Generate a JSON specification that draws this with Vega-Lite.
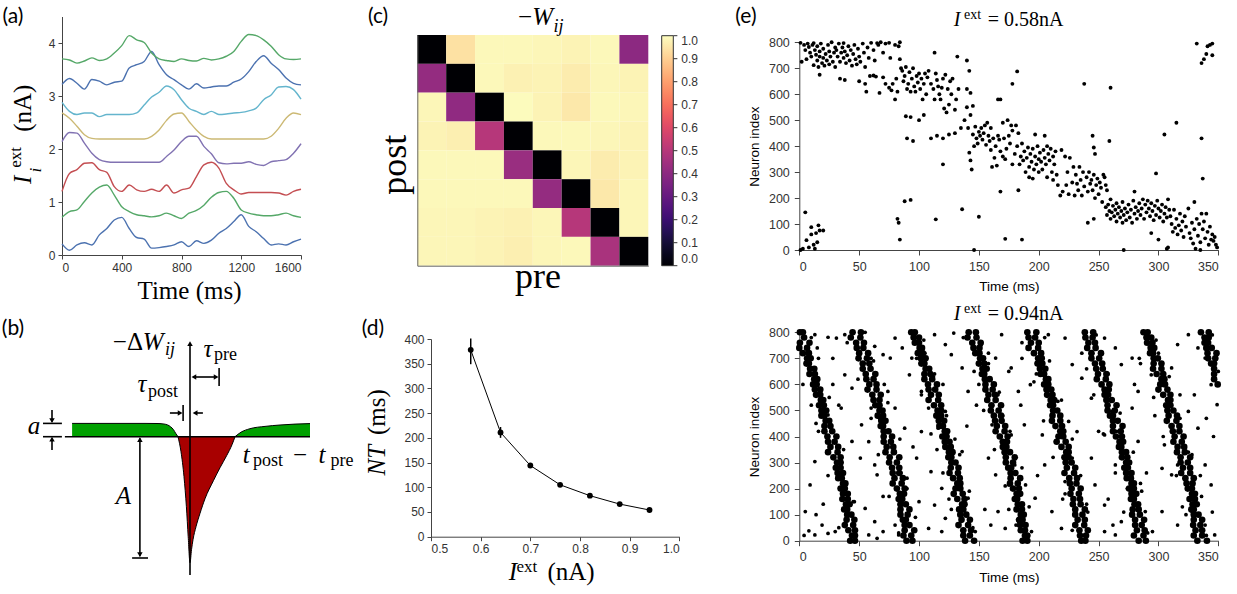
{
"$schema":"https://vega.github.io/schema/vega-lite/v6.json",
"width":1237,"height":594,"autosize":{"type":"none"},"padding":0,"background":"white",
"config":{"view":{"stroke":null},"axis":{"grid":false,"domainColor":"#444","tickColor":"#444","labelColor":"#333","labelFont":"Liberation Sans","labelFontSize":12,"tickSize":4,"labelPadding":3,"titleFont":"Liberation Serif","titleFontWeight":"normal","titleColor":"#000"}},
"resolve":{"scale":{"x":"independent","y":"independent","color":"independent","shape":"independent"},"axis":{"x":"independent","y":"independent"},"legend":{"color":"independent","shape":"independent"}},
"layer":[
{"data":{"values":[
{"t":0,"s0":0.21,"s1":0.71,"s2":1.20,"s3":2.14,"s4":2.68,"s5":2.88,"s6":3.22,"s7":3.70},
{"t":50,"s0":0.09,"s1":0.82,"s2":1.54,"s3":2.31,"s4":2.58,"s5":2.71,"s6":3.33,"s7":3.68},
{"t":100,"s0":0.19,"s1":0.85,"s2":1.61,"s3":2.30,"s4":2.43,"s5":2.65,"s6":3.24,"s7":3.62},
{"t":150,"s0":0.23,"s1":1.01,"s2":1.73,"s3":2.11,"s4":2.27,"s5":2.68,"s6":3.13,"s7":3.66},
{"t":200,"s0":0.19,"s1":1.17,"s2":1.74,"s3":1.92,"s4":2.20,"s5":2.68,"s6":3.31,"s7":3.72},
{"t":250,"s0":0.38,"s1":1.28,"s2":1.61,"s3":1.80,"s4":2.19,"s5":2.61,"s6":3.28,"s7":3.67},
{"t":300,"s0":0.50,"s1":1.32,"s2":1.56,"s3":1.76,"s4":2.19,"s5":2.65,"s6":3.21,"s7":3.70},
{"t":350,"s0":0.66,"s1":1.13,"s2":1.29,"s3":1.75,"s4":2.19,"s5":2.65,"s6":3.26,"s7":3.81},
{"t":400,"s0":0.71,"s1":0.91,"s2":1.20,"s3":1.75,"s4":2.19,"s5":2.65,"s6":3.28,"s7":3.95},
{"t":450,"s0":0.50,"s1":0.82,"s2":1.32,"s3":1.75,"s4":2.19,"s5":2.65,"s6":3.53,"s7":4.14},
{"t":500,"s0":0.33,"s1":0.76,"s2":1.23,"s3":1.75,"s4":2.19,"s5":2.68,"s6":3.59,"s7":4.06},
{"t":550,"s0":0.30,"s1":0.74,"s2":1.20,"s3":1.75,"s4":2.19,"s5":2.83,"s6":3.65,"s7":4.01},
{"t":600,"s0":0.13,"s1":0.72,"s2":1.24,"s3":1.75,"s4":2.24,"s5":2.98,"s6":3.84,"s7":3.81},
{"t":650,"s0":0.14,"s1":0.74,"s2":1.20,"s3":1.75,"s4":2.36,"s5":3.07,"s6":3.59,"s7":3.70},
{"t":700,"s0":0.16,"s1":0.79,"s2":1.32,"s3":1.86,"s4":2.54,"s5":3.19,"s6":3.40,"s7":3.67},
{"t":750,"s0":0.19,"s1":0.74,"s2":1.17,"s3":1.98,"s4":2.66,"s5":3.12,"s6":3.31,"s7":3.65},
{"t":800,"s0":0.25,"s1":0.69,"s2":1.23,"s3":2.14,"s4":2.68,"s5":2.93,"s6":3.21,"s7":3.70},
{"t":850,"s0":0.16,"s1":0.79,"s2":1.26,"s3":2.24,"s4":2.52,"s5":2.77,"s6":3.13,"s7":3.67},
{"t":900,"s0":0.27,"s1":0.84,"s2":1.48,"s3":2.24,"s4":2.36,"s5":2.71,"s6":3.23,"s7":3.66},
{"t":950,"s0":0.22,"s1":0.94,"s2":1.70,"s3":2.05,"s4":2.24,"s5":2.65,"s6":3.15,"s7":3.71},
{"t":1000,"s0":0.28,"s1":1.09,"s2":1.75,"s3":1.91,"s4":2.19,"s5":2.71,"s6":3.17,"s7":3.68},
{"t":1050,"s0":0.41,"s1":1.18,"s2":1.64,"s3":1.74,"s4":2.19,"s5":2.65,"s6":3.19,"s7":3.70},
{"t":1100,"s0":0.50,"s1":1.20,"s2":1.35,"s3":1.72,"s4":2.19,"s5":2.66,"s6":3.19,"s7":3.75},
{"t":1150,"s0":0.63,"s1":1.07,"s2":1.23,"s3":1.73,"s4":2.19,"s5":2.68,"s6":3.26,"s7":3.84},
{"t":1200,"s0":0.76,"s1":0.85,"s2":1.15,"s3":1.73,"s4":2.19,"s5":2.69,"s6":3.32,"s7":4.03},
{"t":1250,"s0":0.54,"s1":0.79,"s2":1.18,"s3":1.76,"s4":2.19,"s5":2.72,"s6":3.46,"s7":4.16},
{"t":1300,"s0":0.44,"s1":0.76,"s2":1.18,"s3":1.71,"s4":2.19,"s5":2.77,"s6":3.65,"s7":4.14},
{"t":1350,"s0":0.31,"s1":0.74,"s2":1.18,"s3":1.69,"s4":2.19,"s5":2.93,"s6":3.76,"s7":4.06},
{"t":1400,"s0":0.19,"s1":0.74,"s2":1.18,"s3":1.76,"s4":2.24,"s5":3.02,"s6":3.62,"s7":3.94},
{"t":1450,"s0":0.21,"s1":0.76,"s2":1.17,"s3":1.78,"s4":2.39,"s5":3.17,"s6":3.50,"s7":3.78},
{"t":1500,"s0":0.19,"s1":0.79,"s2":1.13,"s3":1.80,"s4":2.58,"s5":3.18,"s6":3.34,"s7":3.70},
{"t":1550,"s0":0.25,"s1":0.74,"s2":1.20,"s3":1.92,"s4":2.68,"s5":3.12,"s6":3.24,"s7":3.69},
{"t":1600,"s0":0.30,"s1":0.71,"s2":1.24,"s3":2.10,"s4":2.65,"s5":2.94,"s6":3.21,"s7":3.70}]},
"transform":[{"fold":["s0","s1","s2","s3","s4","s5","s6","s7"],"as":["s","v"]}],
"mark":{"type":"line","interpolate":"monotone","strokeWidth":1.4},
"encoding":{
"x":{"field":"t","type":"quantitative","scale":{"domain":[0,1600],"range":[62,301],"nice":false,"zero":false},"axis":{"orient":"bottom","offset":-339,"values":[0,400,800,1200,1600],"format":"d","title":"Time (ms)","titleFontSize":25,"titleX":189,"titleY":43,"titleBaseline":"alphabetic"}},
"y":{"field":"v","type":"quantitative","scale":{"domain":[0,4.5],"range":[255,16.5],"nice":false,"zero":false},"axis":{"orient":"left","offset":-62,"values":[0,1,2,3,4],"title":null}},
"color":{"field":"s","type":"nominal","scale":{"domain":["s0","s1","s2","s3","s4","s5","s6","s7"],"range":["#4C72B0","#55A868","#C44E52","#8172B2","#CCB974","#64B5CD","#4C72B0","#55A868"]},"legend":null}}},
{"data":{"values":[{"x":-207,"y":1.42,"s":"I"}]},"mark":{"type":"text","font":"Liberation Serif","fontSize":25,"fontStyle":"italic","angle":270,"align":"center","baseline":"alphabetic"},
"encoding":{"x":{"field":"x","type":"quantitative","scale":{"domain":[0,1600],"range":[62,301],"nice":false,"zero":false},"axis":null},"y":{"field":"y","type":"quantitative","scale":{"domain":[0,4.5],"range":[255,16.5],"nice":false,"zero":false},"axis":null},"text":{"field":"s"}}},
{"data":{"values":[{"x":-275,"y":1.84,"s":"ext"}]},"mark":{"type":"text","font":"Liberation Serif","fontSize":17,"angle":270,"align":"center","baseline":"alphabetic"},
"encoding":{"x":{"field":"x","type":"quantitative","scale":{"domain":[0,1600],"range":[62,301],"nice":false,"zero":false},"axis":null},"y":{"field":"y","type":"quantitative","scale":{"domain":[0,4.5],"range":[255,16.5],"nice":false,"zero":false},"axis":null},"text":{"field":"s"}}},
{"data":{"values":[{"x":-140,"y":1.6,"s":"i"}]},"mark":{"type":"text","font":"Liberation Serif","fontSize":17,"fontStyle":"italic","angle":270,"align":"center","baseline":"alphabetic"},
"encoding":{"x":{"field":"x","type":"quantitative","scale":{"domain":[0,1600],"range":[62,301],"nice":false,"zero":false},"axis":null},"y":{"field":"y","type":"quantitative","scale":{"domain":[0,4.5],"range":[255,16.5],"nice":false,"zero":false},"axis":null},"text":{"field":"s"}}},
{"data":{"values":[{"x":-208,"y":2.77,"s":"(nA)"}]},"mark":{"type":"text","font":"Liberation Serif","fontSize":25,"angle":270,"align":"center","baseline":"alphabetic"},
"encoding":{"x":{"field":"x","type":"quantitative","scale":{"domain":[0,1600],"range":[62,301],"nice":false,"zero":false},"axis":null},"y":{"field":"y","type":"quantitative","scale":{"domain":[0,4.5],"range":[255,16.5],"nice":false,"zero":false},"axis":null},"text":{"field":"s"}}},

{"data":{"name":"kernel","values":[
{"x":-3.93,"y":1.33,"p":"gl"},{"x":-1.5,"y":1.33,"p":"gl"},{"x":-1.1,"y":1.32,"p":"gl"},{"x":-0.9,"y":1.28,"p":"gl"},{"x":-0.75,"y":1.18,"p":"gl"},{"x":-0.65,"y":1.0,"p":"gl"},{"x":-0.55,"y":0.7,"p":"gl"},{"x":-0.48,"y":0.35,"p":"gl"},{"x":-0.4,"y":0,"p":"gl"},
{"x":-0.4,"y":0,"p":"r"},{"x":-0.3,"y":-1.5,"p":"r"},{"x":-0.2,"y":-4,"p":"r"},{"x":-0.12,"y":-7,"p":"r"},{"x":-0.06,"y":-10,"p":"r"},{"x":0,"y":-12.6,"p":"r"},{"x":0.05,"y":-11.3,"p":"r"},{"x":0.1,"y":-10.3,"p":"r"},{"x":0.2,"y":-9,"p":"r"},{"x":0.33,"y":-7.7,"p":"r"},{"x":0.5,"y":-6.2,"p":"r"},{"x":0.78,"y":-4.4,"p":"r"},{"x":1.0,"y":-3.1,"p":"r"},{"x":1.22,"y":-1.9,"p":"r"},{"x":1.4,"y":-0.8,"p":"r"},{"x":1.5,"y":0,"p":"r"},
{"x":1.5,"y":0,"p":"gr"},{"x":1.7,"y":0.45,"p":"gr"},{"x":2.0,"y":0.8,"p":"gr"},{"x":2.5,"y":1.03,"p":"gr"},{"x":3.0,"y":1.17,"p":"gr"},{"x":3.5,"y":1.26,"p":"gr"},{"x":4.0,"y":1.31,"p":"gr"}]},
"transform":[{"filter":"datum.p != 'r'"}],
"mark":{"type":"area","color":"#00a000","interpolate":"monotone"},
"encoding":{"x":{"field":"x","type":"quantitative","scale":{"domain":[-4,4],"range":[70,310],"nice":false,"zero":false},"axis":null},"y":{"field":"y","type":"quantitative","scale":{"domain":[-13,10],"range":[566.7,336.7],"nice":false,"zero":false},"axis":null},"y2":{"datum":0},"detail":{"field":"p"}}},
{"data":{"name":"kernel"},"transform":[{"filter":"datum.p == 'r'"}],
"mark":{"type":"area","color":"#a80000","interpolate":"monotone"},
"encoding":{"x":{"field":"x","type":"quantitative","scale":{"domain":[-4,4],"range":[70,310],"nice":false,"zero":false},"axis":null},"y":{"field":"y","type":"quantitative","scale":{"domain":[-13,10],"range":[566.7,336.7],"nice":false,"zero":false},"axis":null},"y2":{"datum":0}}},
{"data":{"name":"kernel"},
"mark":{"type":"line","color":"#000","strokeWidth":1,"interpolate":"monotone"},
"encoding":{"x":{"field":"x","type":"quantitative","scale":{"domain":[-4,4],"range":[70,310],"nice":false,"zero":false},"axis":null},"y":{"field":"y","type":"quantitative","scale":{"domain":[-13,10],"range":[566.7,336.7],"nice":false,"zero":false},"axis":null},"detail":{"field":"p"}}},
{"data":{"values":[
{"x":-4.17,"x2":4.0,"y":0,"y2":0},{"x":0,"x2":0,"y":-13.83,"y2":9.2},{"x":-4.9,"x2":-4.27,"y":1.33,"y2":1.33},{"x":-4.9,"x2":-4.27,"y":0,"y2":0},{"x":-4.6,"x2":-4.6,"y":2.67,"y2":1.5},{"x":-4.6,"x2":-4.6,"y":-1.33,"y2":-0.2},{"x":-1.67,"x2":-1.67,"y":-0.15,"y2":-11.95},{"x":-1.93,"x2":-1.4,"y":-12.13,"y2":-12.13},{"x":0.1,"x2":0.9,"y":5.97,"y2":5.97},{"x":0.97,"x2":0.97,"y":6.87,"y2":5.07},{"x":-0.67,"x2":-0.35,"y":2.37,"y2":2.37},{"x":-0.23,"x2":-0.23,"y":3.17,"y2":1.57},{"x":0.43,"x2":0.2,"y":2.37,"y2":2.37}]},
"mark":{"type":"rule","color":"#000","strokeWidth":1.6},
"encoding":{"x":{"field":"x","type":"quantitative","scale":{"domain":[-4,4],"range":[70,310],"nice":false,"zero":false},"axis":null},"x2":{"field":"x2"},"y":{"field":"y","type":"quantitative","scale":{"domain":[-13,10],"range":[566.7,336.7],"nice":false,"zero":false},"axis":null},"y2":{"field":"y2"}}},
{"data":{"values":[{"x":0,"y":9.3,"d":"up"},{"x":-4.6,"y":1.6,"d":"down"},{"x":-4.6,"y":-0.25,"d":"up"},{"x":-1.67,"y":-0.3,"d":"up"},{"x":-1.67,"y":-11.8,"d":"down"},{"x":0.13,"y":5.97,"d":"left"},{"x":0.87,"y":5.97,"d":"right"},{"x":-0.33,"y":2.37,"d":"right"},{"x":0.17,"y":2.37,"d":"left"}]},
"mark":{"type":"point","filled":true,"color":"#000","size":30,"opacity":1},
"encoding":{"x":{"field":"x","type":"quantitative","scale":{"domain":[-4,4],"range":[70,310],"nice":false,"zero":false},"axis":null},"y":{"field":"y","type":"quantitative","scale":{"domain":[-13,10],"range":[566.7,336.7],"nice":false,"zero":false},"axis":null},"shape":{"field":"d","type":"nominal","scale":{"domain":["up","down","left","right"],"range":["triangle-up","triangle-down","triangle-left","triangle-right"]},"legend":null}}},
{"data":{"values":[{"x":-2.07,"y":8.67,"s":"−Δ"},{"x":3.67,"y":-2.63,"s":"−"}]},"mark":{"type":"text","font":"Liberation Serif","fontSize":25,"align":"center","baseline":"alphabetic"},
"encoding":{"x":{"field":"x","type":"quantitative","scale":{"domain":[-4,4],"range":[70,310],"nice":false,"zero":false},"axis":null},"y":{"field":"y","type":"quantitative","scale":{"domain":[-13,10],"range":[566.7,336.7],"nice":false,"zero":false},"axis":null},"text":{"field":"s"}}},
{"data":{"values":[{"x":-1.23,"y":8.67,"s":"W"},{"x":0.6,"y":8.0,"s":"τ"},{"x":-1.6,"y":4.5,"s":"τ"},{"x":-5.2,"y":0.27,"s":"a"},{"x":-2.22,"y":-6.73,"s":"A"},{"x":1.87,"y":-2.63,"s":"t"},{"x":4.4,"y":-2.63,"s":"t"}]},"mark":{"type":"text","font":"Liberation Serif","fontSize":25,"fontStyle":"italic","align":"center","baseline":"alphabetic"},
"encoding":{"x":{"field":"x","type":"quantitative","scale":{"domain":[-4,4],"range":[70,310],"nice":false,"zero":false},"axis":null},"y":{"field":"y","type":"quantitative","scale":{"domain":[-13,10],"range":[566.7,336.7],"nice":false,"zero":false},"axis":null},"text":{"field":"s"}}},
{"data":{"values":[{"x":1.18,"y":7.67,"s":"pre"},{"x":-0.9,"y":3.97,"s":"post"},{"x":2.6,"y":-2.93,"s":"post"},{"x":5.07,"y":-2.93,"s":"pre"}]},"mark":{"type":"text","font":"Liberation Serif","fontSize":18,"align":"center","baseline":"alphabetic"},
"encoding":{"x":{"field":"x","type":"quantitative","scale":{"domain":[-4,4],"range":[70,310],"nice":false,"zero":false},"axis":null},"y":{"field":"y","type":"quantitative","scale":{"domain":[-13,10],"range":[566.7,336.7],"nice":false,"zero":false},"axis":null},"text":{"field":"s"}}},
{"data":{"values":[{"x":-0.67,"y":8.17,"s":"ij"}]},"mark":{"type":"text","font":"Liberation Serif","fontSize":18,"fontStyle":"italic","align":"center","baseline":"alphabetic"},
"encoding":{"x":{"field":"x","type":"quantitative","scale":{"domain":[-4,4],"range":[70,310],"nice":false,"zero":false},"axis":null},"y":{"field":"y","type":"quantitative","scale":{"domain":[-13,10],"range":[566.7,336.7],"nice":false,"zero":false},"axis":null},"text":{"field":"s"}}},

{"data":{"values":[
{"post":1,"c1":0,"c2":0.94,"c3":0.99,"c4":0.99,"c5":0.985,"c6":0.98,"c7":0.99,"c8":0.4},
{"post":2,"c1":0.42,"c2":0,"c3":0.99,"c4":0.975,"c5":0.98,"c6":0.965,"c7":0.985,"c8":0.98},
{"post":3,"c1":0.985,"c2":0.41,"c3":0,"c4":0.995,"c5":0.98,"c6":0.955,"c7":0.99,"c8":0.985},
{"post":4,"c1":0.98,"c2":0.97,"c3":0.5,"c4":0,"c5":0.99,"c6":0.99,"c7":0.985,"c8":0.98},
{"post":5,"c1":0.99,"c2":0.99,"c3":0.99,"c4":0.43,"c5":0,"c6":0.985,"c7":0.965,"c8":0.98},
{"post":6,"c1":0.99,"c2":0.99,"c3":0.99,"c4":0.99,"c5":0.42,"c6":0,"c7":0.955,"c8":0.985},
{"post":7,"c1":0.985,"c2":0.985,"c3":0.98,"c4":0.975,"c5":0.985,"c6":0.5,"c7":0,"c8":0.985},
{"post":8,"c1":0.985,"c2":0.985,"c3":0.98,"c4":0.97,"c5":0.985,"c6":0.99,"c7":0.47,"c8":0}]},
"transform":[{"fold":["c1","c2","c3","c4","c5","c6","c7","c8"],"as":["pre","w"]}],
"mark":{"type":"rect"},
"encoding":{
"x":{"field":"pre","type":"ordinal","scale":{"domain":["c1","c2","c3","c4","c5","c6","c7","c8"],"range":[417.3,648.3],"paddingInner":0,"paddingOuter":0},"axis":{"orient":"bottom","offset":-328.3,"labels":false,"ticks":false,"title":null,"domainColor":"#666"}},
"y":{"field":"post","type":"ordinal","scale":{"domain":[1,2,3,4,5,6,7,8],"range":[35,265.7],"paddingInner":0,"paddingOuter":0},"axis":{"orient":"left","offset":-417.3,"labels":false,"ticks":false,"title":null,"domainColor":"#666"}},
"color":{"field":"w","type":"quantitative","scale":{"scheme":"magma","domain":[0,1]},"legend":{"orient":"none","legendX":661.7,"legendY":35.7,"direction":"vertical","gradientLength":230,"gradientThickness":11.6,"values":[0,0.1,0.2,0.3,0.4,0.5,0.6,0.7,0.8,0.9,1],"format":".1f","labelFont":"Liberation Sans","labelFontSize":12,"labelColor":"#333","labelOverlap":false,"title":null,"gradientStrokeColor":"#333","gradientStrokeWidth":1,"labelOffset":8}}}},
{"data":{"values":[{"v":0},{"v":0.1},{"v":0.2},{"v":0.3},{"v":0.4},{"v":0.5},{"v":0.6},{"v":0.7},{"v":0.8},{"v":0.9},{"v":1}]},
"mark":{"type":"rule","color":"#333","strokeWidth":1},
"encoding":{"x":{"datum":1,"type":"quantitative","scale":{"domain":[0,1],"range":[661.7,673.3],"nice":false,"zero":false},"axis":null},"x2":{"datum":1.35},"y":{"field":"v","type":"quantitative","scale":{"domain":[0,1],"range":[265.7,35.7],"nice":false,"zero":false},"axis":null}}},
{"data":{"values":[{"x":3.73,"y":-0.35,"s":"−"}]},"mark":{"type":"text","font":"Liberation Serif","fontSize":25,"align":"center","baseline":"alphabetic"},
"encoding":{"x":{"field":"x","type":"quantitative","scale":{"domain":[0,8],"range":[417.3,648.3],"nice":false,"zero":false},"axis":null},"y":{"field":"y","type":"quantitative","scale":{"domain":[0,8],"range":[35,265.7],"nice":false,"zero":false},"axis":null},"text":{"field":"s"}}},
{"data":{"values":[{"x":4.34,"y":-0.35,"s":"W"}]},"mark":{"type":"text","font":"Liberation Serif","fontSize":25,"fontStyle":"italic","align":"center","baseline":"alphabetic"},
"encoding":{"x":{"field":"x","type":"quantitative","scale":{"domain":[0,8],"range":[417.3,648.3],"nice":false,"zero":false},"axis":null},"y":{"field":"y","type":"quantitative","scale":{"domain":[0,8],"range":[35,265.7],"nice":false,"zero":false},"axis":null},"text":{"field":"s"}}},
{"data":{"values":[{"x":4.89,"y":-0.11,"s":"ij"}]},"mark":{"type":"text","font":"Liberation Serif","fontSize":18,"fontStyle":"italic","align":"center","baseline":"alphabetic"},
"encoding":{"x":{"field":"x","type":"quantitative","scale":{"domain":[0,8],"range":[417.3,648.3],"nice":false,"zero":false},"axis":null},"y":{"field":"y","type":"quantitative","scale":{"domain":[0,8],"range":[35,265.7],"nice":false,"zero":false},"axis":null},"text":{"field":"s"}}},
{"data":{"values":[{"x":4.18,"y":8.77,"s":"pre"}]},"mark":{"type":"text","font":"Liberation Serif","fontSize":36,"align":"center","baseline":"alphabetic"},
"encoding":{"x":{"field":"x","type":"quantitative","scale":{"domain":[0,8],"range":[417.3,648.3],"nice":false,"zero":false},"axis":null},"y":{"field":"y","type":"quantitative","scale":{"domain":[0,8],"range":[35,265.7],"nice":false,"zero":false},"axis":null},"text":{"field":"s"}}},
{"data":{"values":[{"x":-0.39,"y":4.5,"s":"post"}]},"mark":{"type":"text","font":"Liberation Serif","fontSize":36,"angle":270,"align":"center","baseline":"alphabetic"},
"encoding":{"x":{"field":"x","type":"quantitative","scale":{"domain":[0,8],"range":[417.3,648.3],"nice":false,"zero":false},"axis":null},"y":{"field":"y","type":"quantitative","scale":{"domain":[0,8],"range":[35,265.7],"nice":false,"zero":false},"axis":null},"text":{"field":"s"}}},

{"data":{"name":"nt","values":[{"i":0.58,"nt":378,"lo":349,"hi":401},{"i":0.64,"nt":211,"lo":200,"hi":222},{"i":0.70,"nt":144,"lo":139,"hi":149},{"i":0.76,"nt":105,"lo":102,"hi":108},{"i":0.82,"nt":83,"lo":80,"hi":86},{"i":0.88,"nt":66,"lo":64,"hi":68},{"i":0.94,"nt":54,"lo":52,"hi":56}]},
"mark":{"type":"line","color":"#000","strokeWidth":1},
"encoding":{"x":{"field":"i","type":"quantitative","scale":{"domain":[0.5,1],"range":[431,679.3],"nice":false,"zero":false},"axis":{"orient":"bottom","offset":-57.3,"values":[0.5,0.6,0.7,0.8,0.9,1.0],"format":".1f","title":null}},
"y":{"field":"nt","type":"quantitative","scale":{"domain":[0,400],"range":[536.7,339],"nice":false,"zero":false},"axis":{"orient":"left","offset":-431,"values":[0,50,100,150,200,250,300,350,400],"title":null}}}},
{"data":{"name":"nt"},"mark":{"type":"rule","color":"#000","strokeWidth":1.5},
"encoding":{"x":{"field":"i","type":"quantitative","scale":{"domain":[0.5,1],"range":[431,679.3],"nice":false,"zero":false},"axis":null},"y":{"field":"lo","type":"quantitative","scale":{"domain":[0,400],"range":[536.7,339],"nice":false,"zero":false},"axis":null},"y2":{"field":"hi"}}},
{"data":{"name":"nt"},"mark":{"type":"point","filled":true,"color":"#000","size":34,"opacity":1},
"encoding":{"x":{"field":"i","type":"quantitative","scale":{"domain":[0.5,1],"range":[431,679.3],"nice":false,"zero":false},"axis":null},"y":{"field":"nt","type":"quantitative","scale":{"domain":[0,400],"range":[536.7,339],"nice":false,"zero":false},"axis":null}}},
{"data":{"values":[{"x":0.665,"y":-87.5,"s":"I"}]},"mark":{"type":"text","font":"Liberation Serif","fontSize":25,"fontStyle":"italic","align":"center","baseline":"alphabetic"},
"encoding":{"x":{"field":"x","type":"quantitative","scale":{"domain":[0.5,1],"range":[431,679.3],"nice":false,"zero":false},"axis":null},"y":{"field":"y","type":"quantitative","scale":{"domain":[0,400],"range":[536.7,339],"nice":false,"zero":false},"axis":null},"text":{"field":"s"}}},
{"data":{"values":[{"x":0.693,"y":-72,"s":"ext"}]},"mark":{"type":"text","font":"Liberation Serif","fontSize":17,"align":"center","baseline":"alphabetic"},
"encoding":{"x":{"field":"x","type":"quantitative","scale":{"domain":[0.5,1],"range":[431,679.3],"nice":false,"zero":false},"axis":null},"y":{"field":"y","type":"quantitative","scale":{"domain":[0,400],"range":[536.7,339],"nice":false,"zero":false},"axis":null},"text":{"field":"s"}}},
{"data":{"values":[{"x":0.782,"y":-87.5,"s":"(nA)"}]},"mark":{"type":"text","font":"Liberation Serif","fontSize":25,"align":"center","baseline":"alphabetic"},
"encoding":{"x":{"field":"x","type":"quantitative","scale":{"domain":[0.5,1],"range":[431,679.3],"nice":false,"zero":false},"axis":null},"y":{"field":"y","type":"quantitative","scale":{"domain":[0,400],"range":[536.7,339],"nice":false,"zero":false},"axis":null},"text":{"field":"s"}}},
{"data":{"values":[{"x":0.407,"y":155,"s":"NT"}]},"mark":{"type":"text","font":"Liberation Serif","fontSize":25,"fontStyle":"italic","angle":270,"align":"center","baseline":"alphabetic"},
"encoding":{"x":{"field":"x","type":"quantitative","scale":{"domain":[0.5,1],"range":[431,679.3],"nice":false,"zero":false},"axis":null},"y":{"field":"y","type":"quantitative","scale":{"domain":[0,400],"range":[536.7,339],"nice":false,"zero":false},"axis":null},"text":{"field":"s"}}},
{"data":{"values":[{"x":0.407,"y":252,"s":"(ms)"}]},"mark":{"type":"text","font":"Liberation Serif","fontSize":25,"angle":270,"align":"center","baseline":"alphabetic"},
"encoding":{"x":{"field":"x","type":"quantitative","scale":{"domain":[0.5,1],"range":[431,679.3],"nice":false,"zero":false},"axis":null},"y":{"field":"y","type":"quantitative","scale":{"domain":[0,400],"range":[536.7,339],"nice":false,"zero":false},"axis":null},"text":{"field":"s"}}},

{"data":{"values":[
{"t":1,"n":798},{"t":2,"n":725},{"t":4,"n":790},{"t":5,"n":770},{"t":6,"n":735},{"t":7,"n":795},{"t":8,"n":782},{"t":9,"n":760},{"t":10,"n":745},{"t":11,"n":790},{"t":12,"n":712},{"t":12,"n":797},{"t":13,"n":770},{"t":14,"n":752},{"t":15,"n":730},{"t":15,"n":785},{"t":16,"n":705},{"t":17,"n":765},{"t":17,"n":745},{"t":18,"n":795},{"t":19,"n":720},{"t":20,"n":740},{"t":20,"n":775},{"t":21,"n":710},{"t":22,"n":755},{"t":23,"n":730},{"t":24,"n":790},{"t":25,"n":715},{"t":25,"n":765},{"t":26,"n":745},{"t":27,"n":800},{"t":28,"n":725},{"t":29,"n":760},{"t":30,"n":780},{"t":30,"n":705},{"t":17,"n":675},
{"t":31,"n":770},{"t":32,"n":745},{"t":33,"n":795},{"t":34,"n":725},{"t":35,"n":760},{"t":36,"n":780},{"t":37,"n":740},{"t":37,"n":797},{"t":38,"n":765},{"t":39,"n":720},{"t":40,"n":750},{"t":41,"n":785},{"t":42,"n":730},{"t":43,"n":770},{"t":44,"n":710},{"t":45,"n":755},{"t":46,"n":790},{"t":47,"n":735},{"t":48,"n":715},{"t":49,"n":775},{"t":50,"n":745},{"t":51,"n":725},{"t":53,"n":795},{"t":54,"n":760},{"t":55,"n":705},{"t":57,"n":780},{"t":58,"n":740},{"t":60,"n":798},{"t":62,"n":770},{"t":63,"n":730},{"t":65,"n":797},{"t":66,"n":790},{"t":68,"n":800},{"t":70,"n":760},{"t":72,"n":795},{"t":75,"n":798},{"t":76,"n":740},{"t":80,"n":790},{"t":83,"n":785},{"t":84,"n":800},
{"t":34,"n":660},{"t":38,"n":655},{"t":50,"n":650},{"t":55,"n":640},{"t":56,"n":610},{"t":59,"n":670},{"t":62,"n":672},{"t":64,"n":668},{"t":67,"n":605},{"t":70,"n":665},{"t":72,"n":640},{"t":75,"n":625},{"t":77,"n":615},{"t":78,"n":640},{"t":80,"n":580},{"t":81,"n":660},{"t":82,"n":610},{"t":84,"n":735},{"t":85,"n":700},
{"t":86,"n":690},{"t":87,"n":650},{"t":88,"n":670},{"t":89,"n":705},{"t":90,"n":620},{"t":91,"n":640},{"t":92,"n":685},{"t":93,"n":610},{"t":94,"n":660},{"t":95,"n":700},{"t":96,"n":630},{"t":97,"n":610},{"t":98,"n":670},{"t":99,"n":645},{"t":100,"n":680},{"t":101,"n":620},{"t":102,"n":660},{"t":103,"n":580},{"t":104,"n":640},{"t":105,"n":680},{"t":106,"n":600},{"t":107,"n":665},{"t":108,"n":690},{"t":110,"n":640},{"t":112,"n":620},{"t":113,"n":580},{"t":114,"n":680},{"t":115,"n":655},{"t":116,"n":630},{"t":117,"n":600},{"t":118,"n":580},{"t":119,"n":625},{"t":120,"n":660},{"t":121,"n":545},{"t":122,"n":675},{"t":123,"n":530},{"t":124,"n":620},{"t":125,"n":560},{"t":126,"n":650},{"t":127,"n":600},{"t":128,"n":660},{"t":130,"n":540},{"t":131,"n":580},{"t":133,"n":620},{"t":135,"n":470},{"t":113,"n":760},{"t":132,"n":745},{"t":140,"n":730},{"t":142,"n":690},{"t":140,"n":620},{"t":143,"n":605},{"t":140,"n":550},{"t":145,"n":555},{"t":138,"n":500},{"t":143,"n":520},{"t":141,"n":470},{"t":104,"n":520},{"t":100,"n":500},{"t":89,"n":515},{"t":93,"n":512},{"t":90,"n":430},{"t":95,"n":420},{"t":110,"n":430},{"t":115,"n":440},{"t":120,"n":430},{"t":125,"n":445},{"t":130,"n":450},{"t":120,"n":330},{"t":114,"n":118},{"t":84,"n":40},{"t":82,"n":120},{"t":83,"n":105},{"t":88,"n":188},{"t":93,"n":193},
{"t":142,"n":375},{"t":143,"n":345},{"t":144,"n":310},{"t":145,"n":445},{"t":146,"n":400},{"t":147,"n":475},{"t":148,"n":430},{"t":149,"n":410},{"t":150,"n":455},{"t":151,"n":440},{"t":152,"n":470},{"t":153,"n":425},{"t":154,"n":450},{"t":155,"n":480},{"t":156,"n":405},{"t":157,"n":490},{"t":158,"n":440},{"t":159,"n":420},{"t":160,"n":385},{"t":160,"n":470},{"t":161,"n":320},{"t":162,"n":430},{"t":163,"n":355},{"t":164,"n":400},{"t":165,"n":325},{"t":166,"n":440},{"t":167,"n":425},{"t":168,"n":380},{"t":170,"n":490},{"t":170,"n":360},{"t":171,"n":430},{"t":172,"n":350},{"t":173,"n":390},{"t":174,"n":500},{"t":175,"n":440},{"t":176,"n":410},{"t":177,"n":480},{"t":178,"n":330},{"t":178,"n":460},{"t":180,"n":370},{"t":181,"n":480},{"t":182,"n":400},{"t":183,"n":450},{"t":166,"n":580},{"t":168,"n":580},{"t":168,"n":225},{"t":178,"n":640},{"t":182,"n":688},{"t":172,"n":43},{"t":150,"n":128},{"t":146,"n":0},{"t":136,"n":157},
{"t":184,"n":330},{"t":185,"n":360},{"t":186,"n":410},{"t":187,"n":345},{"t":188,"n":380},{"t":189,"n":300},{"t":190,"n":355},{"t":191,"n":395},{"t":192,"n":320},{"t":193,"n":370},{"t":194,"n":340},{"t":195,"n":390},{"t":196,"n":310},{"t":197,"n":360},{"t":198,"n":330},{"t":199,"n":400},{"t":200,"n":350},{"t":200,"n":300},{"t":201,"n":375},{"t":202,"n":340},{"t":203,"n":310},{"t":204,"n":385},{"t":205,"n":355},{"t":206,"n":330},{"t":207,"n":400},{"t":207,"n":280},{"t":208,"n":370},{"t":209,"n":345},{"t":210,"n":390},{"t":211,"n":300},{"t":212,"n":360},{"t":213,"n":330},{"t":214,"n":380},{"t":215,"n":290},{"t":212,"n":270},{"t":205,"n":440},{"t":197,"n":445},{"t":195,"n":275},{"t":183,"n":230},{"t":186,"n":40},{"t":192,"n":280},
{"t":216,"n":250},{"t":218,"n":210},{"t":219,"n":385},{"t":220,"n":225},{"t":222,"n":360},{"t":223,"n":250},{"t":224,"n":300},{"t":225,"n":215},{"t":226,"n":355},{"t":228,"n":260},{"t":229,"n":320},{"t":230,"n":210},{"t":231,"n":290},{"t":232,"n":255},{"t":233,"n":230},{"t":234,"n":320},{"t":235,"n":270},{"t":236,"n":210},{"t":237,"n":300},{"t":238,"n":245},{"t":240,"n":280},{"t":241,"n":225},{"t":242,"n":300},{"t":243,"n":255},{"t":244,"n":270},{"t":245,"n":230},{"t":246,"n":290},{"t":247,"n":200},{"t":248,"n":250},{"t":249,"n":275},{"t":250,"n":215},{"t":251,"n":260},{"t":252,"n":240},{"t":253,"n":185},{"t":254,"n":290},{"t":255,"n":280},{"t":256,"n":250},{"t":257,"n":230},{"t":238,"n":640},{"t":245,"n":440},{"t":246,"n":395},{"t":247,"n":370},{"t":241,"n":105},{"t":246,"n":120},{"t":259,"n":420},{"t":260,"n":625},
{"t":256,"n":165},{"t":257,"n":135},{"t":258,"n":175},{"t":259,"n":150},{"t":260,"n":120},{"t":260,"n":195},{"t":261,"n":145},{"t":262,"n":170},{"t":263,"n":130},{"t":264,"n":155},{"t":265,"n":110},{"t":265,"n":180},{"t":266,"n":140},{"t":267,"n":165},{"t":268,"n":125},{"t":269,"n":150},{"t":270,"n":105},{"t":270,"n":185},{"t":271,"n":135},{"t":272,"n":160},{"t":273,"n":115},{"t":274,"n":145},{"t":275,"n":175},{"t":276,"n":125},{"t":277,"n":155},{"t":278,"n":105},{"t":279,"n":190},{"t":280,"n":140},{"t":281,"n":165},{"t":282,"n":120},{"t":283,"n":150},{"t":284,"n":180},{"t":285,"n":135},{"t":286,"n":160},{"t":287,"n":195},{"t":288,"n":120},{"t":289,"n":175},{"t":290,"n":145},{"t":291,"n":190},{"t":292,"n":160},{"t":293,"n":130},{"t":294,"n":180},{"t":295,"n":150},{"t":296,"n":115},{"t":297,"n":170},{"t":298,"n":135},{"t":299,"n":190},{"t":300,"n":160},{"t":301,"n":125},{"t":302,"n":150},{"t":303,"n":175},{"t":304,"n":110},{"t":305,"n":140},{"t":306,"n":165},{"t":307,"n":125},{"t":308,"n":195},{"t":309,"n":155},{"t":310,"n":130},{"t":271,"n":0},{"t":280,"n":225},{"t":298,"n":295},{"t":305,"n":445},{"t":315,"n":490},{"t":294,"n":65},{"t":300,"n":40},{"t":307,"n":5},{"t":308,"n":10},
{"t":311,"n":100},{"t":312,"n":70},{"t":313,"n":155},{"t":314,"n":85},{"t":315,"n":120},{"t":316,"n":60},{"t":317,"n":95},{"t":318,"n":140},{"t":319,"n":75},{"t":320,"n":110},{"t":321,"n":50},{"t":322,"n":130},{"t":323,"n":90},{"t":325,"n":160},{"t":326,"n":65},{"t":327,"n":45},{"t":328,"n":105},{"t":329,"n":25},{"t":330,"n":80},{"t":330,"n":185},{"t":331,"n":5},{"t":332,"n":120},{"t":333,"n":55},{"t":334,"n":100},{"t":335,"n":30},{"t":336,"n":140},{"t":337,"n":80},{"t":338,"n":110},{"t":339,"n":45},{"t":340,"n":140},{"t":341,"n":70},{"t":342,"n":20},{"t":343,"n":90},{"t":344,"n":40},{"t":345,"n":60},{"t":346,"n":35},{"t":347,"n":50},{"t":348,"n":20},{"t":349,"n":10},{"t":335,"n":0},{"t":336,"n":430},{"t":337,"n":275},{"t":332,"n":795},{"t":336,"n":720},{"t":338,"n":735},{"t":340,"n":755},{"t":341,"n":785},{"t":343,"n":790},{"t":345,"n":795},{"t":345,"n":750},
{"t":1,"n":0},{"t":3,"n":5},{"t":5,"n":145},{"t":6,"n":38},{"t":8,"n":10},{"t":10,"n":88},{"t":10,"n":60},{"t":12,"n":20},{"t":13,"n":5},{"t":14,"n":65},{"t":15,"n":30},{"t":16,"n":95},{"t":17,"n":75},{"t":20,"n":75}]},
"mark":{"type":"point","filled":true,"color":"#000","size":15,"opacity":1},
"encoding":{"x":{"field":"t","type":"quantitative","scale":{"domain":[0,350],"range":[799.3,1218.3],"nice":false,"zero":false},"axis":{"orient":"bottom","offset":-344,"values":[0,50,100,150,200,250,300,350],"title":"Time (ms)","titleFont":"Liberation Sans","titleFontSize":13.5,"titleY":40,"titleBaseline":"alphabetic","labelFontSize":12.5,"tickSize":5,"labelPadding":5}},
"y":{"field":"n","type":"quantitative","scale":{"domain":[0,800],"range":[250,42.3],"nice":false,"zero":false},"axis":{"orient":"left","offset":-799.3,"values":[0,100,200,300,400,500,600,700,800],"title":"Neuron index","titleFont":"Liberation Sans","titleFontSize":13.5,"titleX":-41,"titleBaseline":"alphabetic","labelFontSize":12.5,"tickSize":5,"labelPadding":5}}}},
{"data":{"values":[{"x":131.7,"y":862.7,"s":"I"}]},"mark":{"type":"text","font":"Liberation Serif","fontSize":20,"fontStyle":"italic","align":"center","baseline":"alphabetic"},
"encoding":{"x":{"field":"x","type":"quantitative","scale":{"domain":[0,350],"range":[799.3,1218.3],"nice":false,"zero":false},"axis":null},"y":{"field":"y","type":"quantitative","scale":{"domain":[0,800],"range":[250,42.3],"nice":false,"zero":false},"axis":null},"text":{"field":"s"}}},
{"data":{"values":[{"x":144.8,"y":891,"s":"ext"}]},"mark":{"type":"text","font":"Liberation Serif","fontSize":14,"align":"center","baseline":"alphabetic"},
"encoding":{"x":{"field":"x","type":"quantitative","scale":{"domain":[0,350],"range":[799.3,1218.3],"nice":false,"zero":false},"axis":null},"y":{"field":"y","type":"quantitative","scale":{"domain":[0,800],"range":[250,42.3],"nice":false,"zero":false},"axis":null},"text":{"field":"s"}}},
{"data":{"values":[{"x":189,"y":862.7,"s":"= 0.58nA"}]},"mark":{"type":"text","font":"Liberation Serif","fontSize":20,"align":"center","baseline":"alphabetic"},
"encoding":{"x":{"field":"x","type":"quantitative","scale":{"domain":[0,350],"range":[799.3,1218.3],"nice":false,"zero":false},"axis":null},"y":{"field":"y","type":"quantitative","scale":{"domain":[0,800],"range":[250,42.3],"nice":false,"zero":false},"axis":null},"text":{"field":"s"}}},

{"data":{"values":[
{"t":13,"n":791},{"t":24,"n":781},{"t":31,"n":778},{"t":38,"n":791},{"t":55,"n":800},{"t":63,"n":746},{"t":70,"n":714},{"t":80,"n":778},{"t":86,"n":740},{"t":76,"n":701},{"t":38,"n":637},{"t":44,"n":586},{"t":24,"n":483},{"t":35,"n":509},{"t":52,"n":445},{"t":60,"n":509},{"t":74,"n":573},{"t":80,"n":509},{"t":88,"n":432},{"t":44,"n":381},{"t":51,"n":317},{"t":63,"n":291},{"t":65,"n":253},{"t":13,"n":304},{"t":9,"n":214},{"t":5,"n":112},{"t":19,"n":60},{"t":24,"n":28},{"t":30,"n":35},{"t":13,"n":22},{"t":55,"n":124},{"t":63,"n":73},{"t":70,"n":35},{"t":80,"n":60},{"t":83,"n":22},{"t":58,"n":22},{"t":65,"n":9},{"t":113,"n":791},{"t":122,"n":753},{"t":127,"n":714},{"t":94,"n":701},{"t":92,"n":637},{"t":102,"n":573},{"t":108,"n":509},{"t":116,"n":432},{"t":102,"n":419},{"t":98,"n":317},{"t":110,"n":265},{"t":119,"n":201},{"t":113,"n":137},{"t":122,"n":86},{"t":108,"n":47},{"t":119,"n":35},{"t":129,"n":797},{"t":152,"n":753},{"t":164,"n":701},{"t":166,"n":560},{"t":161,"n":445},{"t":169,"n":381},{"t":158,"n":317},{"t":164,"n":253},{"t":175,"n":214},{"t":166,"n":112},{"t":172,"n":47},{"t":147,"n":35},{"t":141,"n":163},{"t":127,"n":278},{"t":136,"n":342},{"t":122,"n":496},{"t":141,"n":573},{"t":136,"n":663},{"t":169,"n":791},{"t":175,"n":650},
{"t":177,"n":663},{"t":183,"n":573},{"t":193,"n":599},{"t":200,"n":753},{"t":208,"n":791},{"t":222,"n":778},{"t":228,"n":676},{"t":216,"n":535},{"t":225,"n":458},{"t":188,"n":445},{"t":177,"n":406},{"t":180,"n":291},{"t":189,"n":214},{"t":197,"n":163},{"t":183,"n":60},{"t":194,"n":35},{"t":211,"n":112},{"t":219,"n":47},{"t":222,"n":227},{"t":228,"n":317},{"t":232,"n":419},{"t":255,"n":778},{"t":264,"n":740},{"t":269,"n":676},{"t":278,"n":701},{"t":261,"n":496},{"t":255,"n":406},{"t":244,"n":317},{"t":264,"n":291},{"t":283,"n":381},{"t":247,"n":214},{"t":255,"n":137},{"t":269,"n":73},{"t":255,"n":35},{"t":264,"n":22},{"t":289,"n":112},{"t":295,"n":35},{"t":303,"n":278},{"t":311,"n":253},{"t":316,"n":291},{"t":305,"n":368},{"t":325,"n":496},{"t":333,"n":432},{"t":311,"n":663},{"t":316,"n":753},{"t":325,"n":791},{"t":339,"n":701},{"t":344,"n":599},{"t":349,"n":522},{"t":339,"n":291},{"t":344,"n":214},{"t":328,"n":112},{"t":339,"n":60},{"t":347,"n":22},{"t":316,"n":60},{"t":303,"n":112},{"t":283,"n":573},{"t":294,"n":637},{"t":278,"n":509},{"t":236,"n":624},{"t":244,"n":547},{"t":203,"n":406},{"t":205,"n":291},
{"t":4,"n":20},{"t":8,"n":38},{"t":14,"n":100},{"t":20,"n":140},{"t":28,"n":600},{"t":33,"n":520},{"t":16,"n":420},{"t":58,"n":380},{"t":71,"n":600},{"t":90,"n":200},{"t":100,"n":150},{"t":112,"n":630},{"t":130,"n":390},{"t":148,"n":520},{"t":155,"n":120},{"t":170,"n":480},{"t":186,"n":700},{"t":199,"n":250},{"t":210,"n":520},{"t":230,"n":100},{"t":240,"n":660},{"t":250,"n":420},{"t":262,"n":60},{"t":272,"n":340},{"t":280,"n":600},{"t":290,"n":260},{"t":300,"n":720},{"t":310,"n":440},{"t":320,"n":130},{"t":330,"n":560},{"t":340,"n":470},{"t":15,"n":740},{"t":28,"n":700},{"t":57,"n":620},{"t":67,"n":470},{"t":95,"n":360},{"t":120,"n":600},{"t":150,"n":600},{"t":158,"n":680},{"t":175,"n":120},{"t":198,"n":640},{"t":214,"n":380},{"t":240,"n":140},{"t":258,"n":160},{"t":274,"n":200},{"t":285,"n":680},{"t":297,"n":480},{"t":318,"n":560},{"t":335,"n":250},{"t":346,"n":400},
{"t":16,"n":700},{"t":3,"n":600},{"t":25,"n":550},{"t":14,"n":450},{"t":37,"n":350},{"t":24,"n":250},{"t":46,"n":150},{"t":33,"n":50},{"t":10,"n":780},
{"t":40,"n":760},{"t":62,"n":690},{"t":49,"n":620},{"t":74,"n":530},{"t":60,"n":470},{"t":84,"n":390},{"t":66,"n":330},{"t":90,"n":240},{"t":75,"n":170},{"t":97,"n":90},{"t":83,"n":30},
{"t":104,"n":770},{"t":98,"n":700},{"t":113,"n":640},{"t":102,"n":560},{"t":123,"n":480},{"t":110,"n":410},{"t":134,"n":330},{"t":120,"n":260},{"t":142,"n":190},{"t":127,"n":120},{"t":145,"n":50},
{"t":137,"n":780},{"t":158,"n":720},{"t":146,"n":650},{"t":167,"n":570},{"t":154,"n":500},{"t":176,"n":420},{"t":163,"n":350},{"t":186,"n":280},{"t":172,"n":210},{"t":192,"n":130},{"t":181,"n":60},
{"t":186,"n":760},{"t":209,"n":690},{"t":196,"n":610},{"t":219,"n":540},{"t":204,"n":460},{"t":228,"n":390},{"t":212,"n":320},{"t":235,"n":250},{"t":222,"n":180},{"t":241,"n":110},{"t":228,"n":40},
{"t":248,"n":790},{"t":236,"n":720},{"t":258,"n":640},{"t":246,"n":560},{"t":268,"n":490},{"t":254,"n":410},{"t":279,"n":340},{"t":264,"n":260},{"t":286,"n":190},{"t":271,"n":110},{"t":291,"n":30},
{"t":298,"n":770},{"t":284,"n":700},{"t":309,"n":630},{"t":296,"n":550},{"t":318,"n":470},{"t":304,"n":400},{"t":328,"n":330},{"t":315,"n":250},{"t":336,"n":170},{"t":323,"n":100},{"t":340,"n":20},
{"t":345,"n":790},{"t":333,"n":740},{"t":350,"n":650},
{"t":45,"n":150},{"t":60,"n":700},{"t":85,"n":260},{"t":105,"n":720},{"t":125,"n":160},{"t":140,"n":440},{"t":160,"n":60},{"t":185,"n":520},{"t":205,"n":780},{"t":220,"n":160},{"t":245,"n":720},{"t":265,"n":420},{"t":285,"n":220},{"t":305,"n":600},{"t":325,"n":340},{"t":345,"n":110},{"t":10,"n":520},{"t":35,"n":250},{"t":70,"n":170},{"t":115,"n":350}]},
"mark":{"type":"point","filled":true,"color":"#000","size":14,"opacity":1},
"encoding":{"x":{"field":"t","type":"quantitative","scale":{"domain":[0,350],"range":[799.3,1218.3],"nice":false,"zero":false},"axis":{"orient":"bottom","offset":-53.3,"values":[0,50,100,150,200,250,300,350],"title":"Time (ms)","titleFont":"Liberation Sans","titleFontSize":13.5,"titleY":40.3,"titleBaseline":"alphabetic","labelFontSize":12.5,"tickSize":5,"labelPadding":5}},
"y":{"field":"n","type":"quantitative","scale":{"domain":[0,800],"range":[540.7,332.3],"nice":false,"zero":false},"axis":{"orient":"left","offset":-799.3,"values":[0,100,200,300,400,500,600,700,800],"title":"Neuron index","titleFont":"Liberation Sans","titleFontSize":13.5,"titleX":-41,"titleBaseline":"alphabetic","labelFontSize":12.5,"tickSize":5,"labelPadding":5}}}},
{"data":{"values":[
{"n":800,"b1":0.5,"b2":44.5,"b3":93.5,"b4":141.5,"b5":190.5,"b6":238.5,"b7":287.5,"b8":335.5},
{"n":780,"b1":4,"b2":51,"b3":100,"b4":148,"b5":197,"b6":245,"b7":294,"b8":342},
{"n":760,"b1":0.5,"b2":47.5,"b3":96.5,"b4":144.5,"b5":193.5,"b6":241.5,"b7":290.5,"b8":338.5},
{"n":740,"b1":6.5,"b2":53.5,"b3":102.5,"b4":150.5,"b5":199.5,"b6":247.5,"b7":296.5,"b8":344.5},
{"n":720,"b1":3,"b2":50,"b3":99,"b4":147,"b5":196,"b6":244,"b7":293,"b8":341},
{"n":700,"b1":9.5,"b2":56.5,"b3":105.5,"b4":153.5,"b5":202.5,"b6":250.5,"b7":299.5,"b8":347.5},
{"n":680,"b1":6,"b2":53,"b3":102,"b4":150,"b5":199,"b6":247,"b7":296,"b8":344},
{"n":660,"b1":12.5,"b2":59.5,"b3":108.5,"b4":156.5,"b5":205.5,"b6":253.5,"b7":302.5},
{"n":640,"b1":8.5,"b2":55.5,"b3":104.5,"b4":152.5,"b5":201.5,"b6":249.5,"b7":298.5,"b8":346.5},
{"n":620,"b1":15,"b2":62,"b3":111,"b4":159,"b5":208,"b6":256,"b7":305},
{"n":600,"b1":11.5,"b2":58.5,"b3":107.5,"b4":155.5,"b5":204.5,"b6":252.5,"b7":301.5,"b8":349.5},
{"n":580,"b1":17.5,"b2":64.5,"b3":113.5,"b4":161.5,"b5":210.5,"b6":258.5,"b7":307.5},
{"n":560,"b1":14,"b2":61,"b3":110,"b4":158,"b5":207,"b6":255,"b7":304},
{"n":540,"b1":20,"b2":67,"b3":116,"b4":164,"b5":213,"b6":261,"b7":310},
{"n":520,"b1":16.5,"b2":63.5,"b3":112.5,"b4":160.5,"b5":209.5,"b6":257.5,"b7":306.5},
{"n":500,"b1":22.5,"b2":69.5,"b3":118.5,"b4":166.5,"b5":215.5,"b6":263.5,"b7":312.5},
{"n":480,"b1":18.5,"b2":65.5,"b3":114.5,"b4":162.5,"b5":211.5,"b6":259.5,"b7":308.5},
{"n":460,"b1":25,"b2":72,"b3":121,"b4":169,"b5":218,"b6":266,"b7":315},
{"n":440,"b1":21,"b2":68,"b3":117,"b4":165,"b5":214,"b6":262,"b7":311},
{"n":420,"b1":27.5,"b2":74.5,"b3":123.5,"b4":171.5,"b5":220.5,"b6":268.5,"b7":317.5},
{"n":400,"b1":23.5,"b2":70.5,"b3":119.5,"b4":167.5,"b5":216.5,"b6":264.5,"b7":313.5},
{"n":380,"b1":29.5,"b2":76.5,"b3":125.5,"b4":173.5,"b5":222.5,"b6":270.5,"b7":319.5},
{"n":360,"b1":26,"b2":73,"b3":122,"b4":170,"b5":219,"b6":267,"b7":316},
{"n":340,"b1":32,"b2":79,"b3":128,"b4":176,"b5":225,"b6":273,"b7":322},
{"n":320,"b1":28.5,"b2":75.5,"b3":124.5,"b4":172.5,"b5":221.5,"b6":269.5,"b7":318.5},
{"n":300,"b1":34.5,"b2":81.5,"b3":130.5,"b4":178.5,"b5":227.5,"b6":275.5,"b7":324.5},
{"n":280,"b1":30.5,"b2":77.5,"b3":126.5,"b4":174.5,"b5":223.5,"b6":271.5,"b7":320.5},
{"n":260,"b1":36.5,"b2":83.5,"b3":132.5,"b4":180.5,"b5":229.5,"b6":277.5,"b7":326.5},
{"n":240,"b1":32.5,"b2":79.5,"b3":128.5,"b4":176.5,"b5":225.5,"b6":273.5,"b7":322.5},
{"n":220,"b1":38.5,"b2":85.5,"b3":134.5,"b4":182.5,"b5":231.5,"b6":279.5,"b7":328.5},
{"n":200,"b1":34.5,"b2":81.5,"b3":130.5,"b4":178.5,"b5":227.5,"b6":275.5,"b7":324.5},
{"n":180,"b1":40.5,"b2":87.5,"b3":136.5,"b4":184.5,"b5":233.5,"b6":281.5,"b7":330.5},
{"n":160,"b1":36,"b2":83,"b3":132,"b4":180,"b5":229,"b6":277,"b7":326},
{"n":140,"b1":42,"b2":89,"b3":138,"b4":186,"b5":235,"b6":283,"b7":332},
{"n":120,"b1":37.5,"b2":84.5,"b3":133.5,"b4":181.5,"b5":230.5,"b6":278.5,"b7":327.5},
{"n":100,"b1":43.5,"b2":90.5,"b3":139.5,"b4":187.5,"b5":236.5,"b6":284.5,"b7":333.5},
{"n":80,"b1":39.5,"b2":86.5,"b3":135.5,"b4":183.5,"b5":232.5,"b6":280.5,"b7":329.5},
{"n":60,"b1":45,"b2":92,"b3":141,"b4":189,"b5":238,"b6":286,"b7":335},
{"n":40,"b1":41,"b2":88,"b3":137,"b4":185,"b5":234,"b6":282,"b7":331},
{"n":20,"b1":46.5,"b2":93.5,"b3":142.5,"b4":190.5,"b5":239.5,"b6":287.5,"b7":336.5},
{"n":0,"b1":42.5,"b2":89.5,"b3":138.5,"b4":186.5,"b5":235.5,"b6":283.5,"b7":332.5},
{"n":800,"b1":3,"b2":51.5,"b3":96.5,"b4":147.5,"b5":198,"b6":245.5,"b7":291,"b8":342},
{"n":780,"b2":43,"b3":95.5,"b4":140.5,"b5":191.5,"b6":239,"b7":290,"b8":338.5},
{"n":760,"b1":8.5,"b2":54,"b3":100,"b4":151.5,"b5":200,"b6":247,"b7":295,"b8":341.5},
{"n":740,"b1":0,"b2":48,"b3":100.5,"b4":145.5,"b5":191.5,"b6":240.5,"b7":293.5,"b8":340},
{"n":720,"b1":8,"b2":57.5,"b3":103,"b4":150.5,"b5":202,"b6":252,"b7":295.5,"b8":348.5},
{"n":700,"b1":6.5,"b2":49.5,"b3":101.5,"b4":151,"b5":199.5,"b6":244,"b7":296,"b8":341.5},
{"n":680,"b1":8,"b2":58.5,"b3":104.5,"b4":154.5,"b5":203,"b6":253,"b7":302.5,"b8":346.5},
{"n":660,"b1":9,"b2":53,"b3":105.5,"b4":153,"b5":201,"b6":248,"b7":295.5,"b8":346.5},
{"n":640,"b1":13,"b2":63.5,"b3":109.5,"b4":154.5,"b5":204.5,"b6":256.5,"b7":304},
{"n":620,"b1":12.5,"b2":56,"b3":104.5,"b4":155,"b5":206,"b6":248.5,"b7":302.5,"b8":346.5},
{"n":600,"b1":14.5,"b2":64.5,"b3":115,"b4":162.5,"b5":208,"b6":259,"b7":305.5},
{"n":580,"b1":13,"b2":57,"b3":108,"b4":155.5,"b5":206.5,"b6":255,"b7":300},
{"n":560,"b1":17.5,"b2":68,"b3":116.5,"b4":163.5,"b5":211.5,"b6":258,"b7":310},
{"n":540,"b1":18,"b2":62,"b3":108,"b4":157,"b5":210,"b6":256.5,"b7":308},
{"n":520,"b1":20.5,"b2":67,"b3":118.5,"b4":168.5,"b5":212,"b6":265,"b7":310},
{"n":500,"b1":18.5,"b2":67,"b3":115.5,"b4":160,"b5":212,"b6":257.5,"b7":307.5},
{"n":480,"b1":21,"b2":70,"b3":118.5,"b4":168.5,"b5":218,"b6":262,"b7":315.5},
{"n":460,"b1":22,"b2":68.5,"b3":116.5,"b4":163.5,"b5":211,"b6":262,"b7":307},
{"n":440,"b1":26,"b2":70,"b3":120,"b4":172,"b5":219.5,"b6":270,"b7":317.5},
{"n":420,"b1":21,"b2":70.5,"b3":121.5,"b4":164,"b5":218,"b6":262,"b7":312},
{"n":400,"b1":31,"b2":77.5,"b3":123,"b4":174,"b5":220.5,"b6":269.5,"b7":321},
{"n":380,"b1":24,"b2":70.5,"b3":121.5,"b4":170,"b5":215,"b6":267.5,"b7":312.5},
{"n":360,"b1":32.5,"b2":78.5,"b3":126.5,"b4":173,"b5":225,"b6":269,"b7":321.5},
{"n":340,"b1":24,"b2":72,"b3":125,"b4":171.5,"b5":223,"b6":269.5,"b7":315.5},
{"n":320,"b1":34.5,"b2":83.5,"b3":127,"b4":180,"b5":225,"b6":274,"b7":326.5},
{"n":300,"b1":31.5,"b2":75,"b3":127,"b4":172.5,"b5":222.5,"b6":273,"b7":318.5},
{"n":280,"b1":34.5,"b2":83.5,"b3":133,"b4":177,"b5":230.5,"b6":274.5,"b7":326.5},
{"n":260,"b1":32,"b2":78,"b3":125.5,"b4":176.5,"b5":221.5,"b6":273,"b7":319},
{"n":240,"b1":35.5,"b2":86.5,"b3":134,"b4":184.5,"b5":232,"b6":277,"b7":329.5},
{"n":220,"b1":36.5,"b2":78,"b3":132,"b4":176,"b5":226,"b6":277.5,"b7":323.5},
{"n":200,"b1":38,"b2":88,"b3":134.5,"b4":183.5,"b5":235,"b6":279.5,"b7":328},
{"n":180,"b1":36.5,"b2":84,"b3":129,"b4":181.5,"b5":226.5,"b6":277.5,"b7":328},
{"n":160,"b1":40.5,"b2":86,"b3":138,"b4":182,"b5":234.5,"b6":279.5,"b7":330.5},
{"n":140,"b1":39,"b2":84.5,"b3":136,"b4":182.5,"b5":228.5,"b6":280,"b7":328.5},
{"n":120,"b1":40,"b2":92,"b3":137,"b4":186,"b5":238.5,"b6":283.5,"b7":329.5},
{"n":100,"b1":40,"b2":84.5,"b3":134.5,"b4":185,"b5":230.5,"b6":278,"b7":329.5},
{"n":80,"b1":46,"b2":89,"b3":142.5,"b4":186.5,"b5":238.5,"b6":288,"b7":336.5},
{"n":60,"b1":38,"b2":88,"b3":133,"b4":184.5,"b5":230.5,"b6":280.5,"b7":329},
{"n":40,"b1":46.5,"b2":96,"b3":143.5,"b4":188.5,"b5":241,"b6":288.5,"b7":336.5},
{"n":20,"b1":44,"b2":87,"b3":137,"b4":188.5,"b5":234.5,"b6":279.5,"b7":329.5},
{"n":0,"b1":46.5,"b2":94.5,"b3":146,"b4":190.5,"b5":239,"b6":289.5,"b7":340.5}]},
"transform":[{"fold":["b1","b2","b3","b4","b5","b6","b7","b8"],"as":["band","t"]}],
"mark":{"type":"point","filled":true,"color":"#000","size":44,"opacity":1},
"encoding":{"x":{"field":"t","type":"quantitative","scale":{"domain":[0,350],"range":[799.3,1218.3],"nice":false,"zero":false},"axis":null},"y":{"field":"n","type":"quantitative","scale":{"domain":[0,800],"range":[540.7,332.3],"nice":false,"zero":false},"axis":null}}},
{"data":{"values":[{"x":131.7,"y":847,"s":"I"}]},"mark":{"type":"text","font":"Liberation Serif","fontSize":20,"fontStyle":"italic","align":"center","baseline":"alphabetic"},
"encoding":{"x":{"field":"x","type":"quantitative","scale":{"domain":[0,350],"range":[799.3,1218.3],"nice":false,"zero":false},"axis":null},"y":{"field":"y","type":"quantitative","scale":{"domain":[0,800],"range":[540.7,332.3],"nice":false,"zero":false},"axis":null},"text":{"field":"s"}}},
{"data":{"values":[{"x":144.8,"y":875,"s":"ext"}]},"mark":{"type":"text","font":"Liberation Serif","fontSize":14,"align":"center","baseline":"alphabetic"},
"encoding":{"x":{"field":"x","type":"quantitative","scale":{"domain":[0,350],"range":[799.3,1218.3],"nice":false,"zero":false},"axis":null},"y":{"field":"y","type":"quantitative","scale":{"domain":[0,800],"range":[540.7,332.3],"nice":false,"zero":false},"axis":null},"text":{"field":"s"}}},
{"data":{"values":[{"x":189,"y":847,"s":"= 0.94nA"}]},"mark":{"type":"text","font":"Liberation Serif","fontSize":20,"align":"center","baseline":"alphabetic"},
"encoding":{"x":{"field":"x","type":"quantitative","scale":{"domain":[0,350],"range":[799.3,1218.3],"nice":false,"zero":false},"axis":null},"y":{"field":"y","type":"quantitative","scale":{"domain":[0,800],"range":[540.7,332.3],"nice":false,"zero":false},"axis":null},"text":{"field":"s"}}},

{"data":{"values":[{"x":0.0105,"y":0.0387,"s":"(a)"},{"x":0.0105,"y":0.564,"s":"(b)"},{"x":0.3056,"y":0.0387,"s":"(c)"},{"x":0.3015,"y":0.564,"s":"(d)"},{"x":0.603,"y":0.0387,"s":"(e)"}]},
"mark":{"type":"text","font":"Lato","fontSize":21,"align":"center","baseline":"alphabetic"},
"encoding":{"x":{"field":"x","type":"quantitative","scale":{"domain":[0,1],"range":[0,1237],"nice":false,"zero":false},"axis":null},"y":{"field":"y","type":"quantitative","scale":{"domain":[0,1],"range":[0,594],"nice":false,"zero":false},"axis":null},"text":{"field":"s"}}}
]
}
